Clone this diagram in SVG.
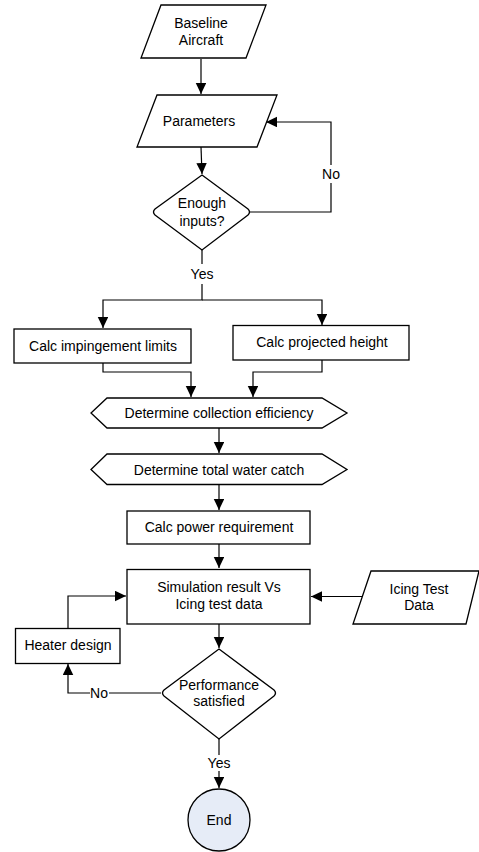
<svg xmlns="http://www.w3.org/2000/svg" width="479" height="852" viewBox="0 0 479 852">
<style>
.s{fill:#fff;stroke:#000;stroke-width:1.3}
.c{fill:none;stroke:#000;stroke-width:1.2}
.t{font-family:"Liberation Sans",Arial,sans-serif;font-size:14px;fill:#000;text-anchor:middle}
</style>
<defs>
<marker id="a" markerUnits="userSpaceOnUse" markerWidth="11" markerHeight="11" refX="11" refY="5.25" orient="auto">
<path d="M0,0 L11,5.25 L0,10.5 z" fill="#000"/>
</marker>
</defs>
<rect width="479" height="852" fill="#fff"/>
<g id="connectors">
<path class="c" d="M201,59 V94" marker-end="url(#a)"/>
<path class="c" d="M201,147 L202,174" marker-end="url(#a)"/>
<path class="c" d="M250,212 H331 V183"/>
<path class="c" d="M331,165 V122 H266" marker-end="url(#a)"/>
<path class="c" d="M202,250 V264"/>
<path class="c" d="M202,284 V300 H103 V328" marker-end="url(#a)"/>
<path class="c" d="M202,300 H322 V325" marker-end="url(#a)"/>
<path class="c" d="M103,363 V372 H191 V397" marker-end="url(#a)"/>
<path class="c" d="M322,360 V372 H253 V397" marker-end="url(#a)"/>
<path class="c" d="M219,428 V453" marker-end="url(#a)"/>
<path class="c" d="M219,484 V510" marker-end="url(#a)"/>
<path class="c" d="M219,544 V568" marker-end="url(#a)"/>
<path class="c" d="M364,596.5 H311" marker-end="url(#a)"/>
<path class="c" d="M68,628 V596 H126" marker-end="url(#a)"/>
<path class="c" d="M219,624 V648" marker-end="url(#a)"/>
<path class="c" d="M161,693 H109"/>
<path class="c" d="M90,693 H68 V664" marker-end="url(#a)"/>
<path class="c" d="M219,739 V755"/>
<path class="c" d="M219,771 V788" marker-end="url(#a)"/>
<text class="t" x="331" y="179">No</text>
<text class="t" x="202" y="279">Yes</text>
<text class="t" x="99" y="698">No</text>
<text class="t" x="219" y="768">Yes</text>
</g>
<g id="baseline">
<path class="s" d="M161,5 H266 L246,58 H141 z"/>
<text class="t" x="201" y="28">Baseline</text>
<text class="t" x="201" y="45">Aircraft</text>
</g>
<g id="parameters">
<path class="s" d="M157,95 H277 L257,147 H137 z"/>
<text class="t" x="199" y="126">Parameters</text>
</g>
<g id="enough">
<path class="s" d="M202,175 L248,209 Q251,212 248,215 L202,250 L155,215 Q152,212 155,209 z"/>
<text class="t" x="202" y="208">Enough</text>
<text class="t" x="202" y="226">inputs?</text>
</g>
<g id="impingement">
<rect class="s" x="14" y="329" width="177" height="34"/>
<text class="t" x="103" y="351">Calc impingement limits</text>
</g>
<g id="projected">
<rect class="s" x="233" y="325.5" width="176" height="34.5"/>
<text class="t" x="322" y="347">Calc projected height</text>
</g>
<g id="collection">
<path class="s" d="M107,398 H322 L347,413 L322,428 H107 L91,413 z"/>
<text class="t" x="219" y="418">Determine collection efficiency</text>
</g>
<g id="watercatch">
<path class="s" d="M107,454 H322 L347,469.5 L322,484.5 H107 L91,469.5 z"/>
<text class="t" x="219" y="474.5">Determine total water catch</text>
</g>
<g id="power">
<rect class="s" x="127" y="511" width="183" height="33"/>
<text class="t" x="219" y="532">Calc power requirement</text>
</g>
<g id="simulation">
<rect class="s" x="127" y="569.5" width="183" height="54.5"/>
<text class="t" x="219" y="592">Simulation result Vs</text>
<text class="t" x="219" y="608.5">Icing test data</text>
</g>
<g id="icingdata">
<path class="s" d="M371,571 H479 L466,624 H353 z"/>
<text class="t" x="419" y="593.5">Icing Test</text>
<text class="t" x="419" y="610">Data</text>
</g>
<g id="heater">
<rect class="s" x="15.5" y="628.5" width="104.5" height="35"/>
<text class="t" x="68" y="649.5">Heater design</text>
</g>
<g id="performance">
<path class="s" d="M219,649 L274,690 Q277,693 274,696 L219,739 L164,696 Q161,693 164,690 z"/>
<text class="t" x="219" y="689.5">Performance</text>
<text class="t" x="219" y="706">satisfied</text>
</g>
<g id="end">
<circle cx="219" cy="820" r="31" fill="#e6ecf7" stroke="#000" stroke-width="1.3"/>
<text class="t" x="219" y="825">End</text>
</g>
</svg>
